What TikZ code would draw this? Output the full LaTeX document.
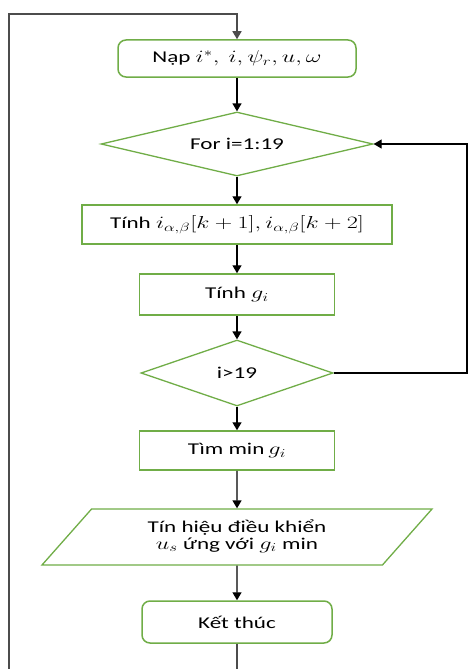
\documentclass[tikz,border=0pt]{standalone}
\usepackage{fontspec}
\setmainfont{Carlito}
\usetikzlibrary{shapes.geometric,arrows.meta}
\definecolor{boxgreen}{RGB}{112,173,71}
\newcommand{\wide}[1]{\scalebox{1.4}[1]{#1}}
\tikzset{
  term/.style={rectangle, rounded corners=8pt, draw=boxgreen, line width=1.5pt, fill=white},
  proc/.style={rectangle, draw=boxgreen, line width=1.5pt, fill=white},
  decide/.style={diamond, draw=boxgreen, line width=1.3pt, inner sep=0pt, fill=white},
  io/.style={trapezium, trapezium left angle=36, trapezium right angle=144, trapezium stretches body, draw=boxgreen, line width=1.3pt, inner sep=0pt, fill=white},
  arr/.style={line width=1.4pt, -{Triangle[width=9pt,length=8pt]}},
  back/.style={line width=1.6pt, draw=black!70, -{Triangle[width=9pt,length=8pt]}}
}
\begin{document}
\begin{tikzpicture}[x=1pt,y=-1pt,font=\fontsize{16.5}{19}\selectfont]
\useasboundingbox (0,0) rectangle (468,669);
\node [term, minimum width=238, minimum height=37] (nap) at (237,58.5) {\wide{Nạp $i^*,\ i,\psi_r,u,\omega$}};
\node [decide, aspect=4.25, minimum width=272, minimum height=64] (for) at (237,144) {\wide{For i=1:19}};
\node [proc, minimum width=310, minimum height=39] (tinhab) at (237,224.5) {\wide{Tính $i_{\alpha,\beta}[k+1],i_{\alpha,\beta}[k+2]$}};
\node [proc, minimum width=195, minimum height=41] (tinhg) at (237,294.5) {\wide{Tính $g_i$}};
\node [decide, aspect=2.9, minimum width=192, minimum height=66] (cond) at (237,373) {\wide{i>19}};
\node [proc, minimum width=195, minimum height=39] (timmin) at (237,450.5) {\wide{Tìm min$\,g_i$}};
\node [io, minimum width=390, minimum height=56] (signal) at (237,537) {\wide{\begin{tabular}{@{}c@{}}Tín hiệu điều khiển\\[-2pt] $u_s$ ứng với $g_i$ min\end{tabular}}};
\node [term, minimum width=190, minimum height=42] (ket) at (237,622) {\wide{Kết thúc}};
% corners of the two loops
\coordinate (loopR) at (467,144);
\coordinate (loopB) at (9,700);
\coordinate (loopT) at (9,14);
\draw [arr] (nap) -- (for);
\draw [arr] (for) -- (tinhab);
\draw [arr] (tinhab) -- (tinhg);
\draw [arr] (tinhg) -- (cond);
\draw [arr] (cond) -- (timmin);
\draw [arr] (timmin) -- (signal);
\draw [arr] (signal) -- (ket);
\draw [arr, line width=1.2pt] (cond.east) -| (loopR) -- (for.east);
\draw [back] (ket.south) |- (loopB) -- (loopT) -| (nap.north);
\end{tikzpicture}
\end{document}
